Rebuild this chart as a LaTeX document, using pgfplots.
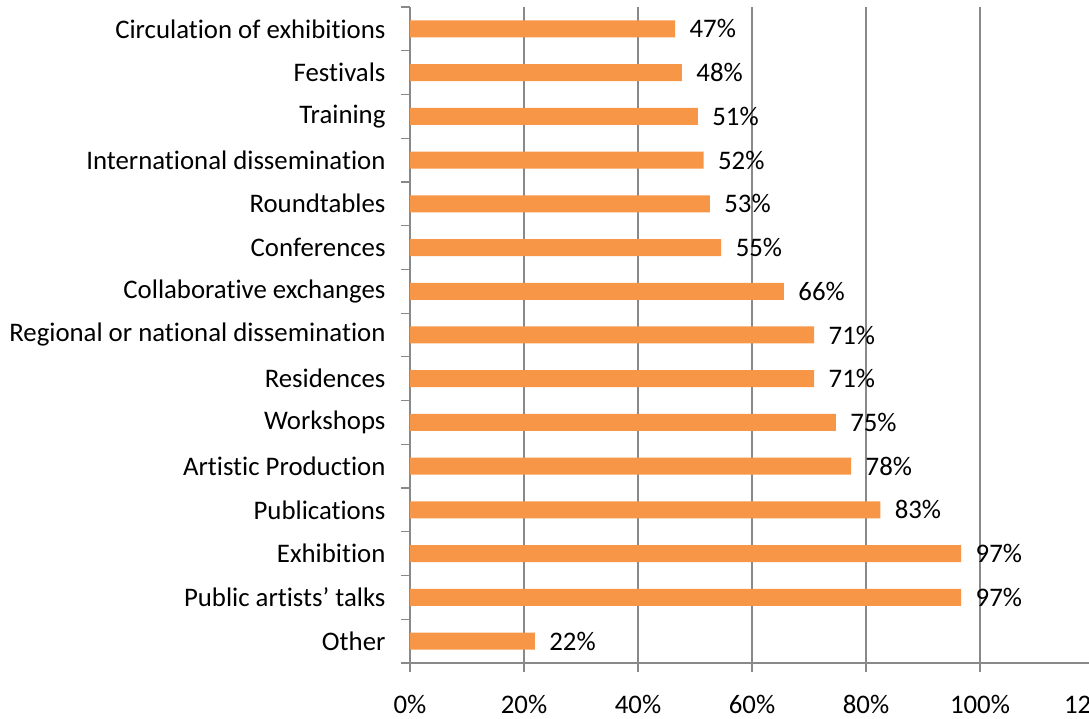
\documentclass[border=0pt]{standalone}
\usepackage{pgfplots}
\pgfplotsset{compat=1.18}
\usepackage{fontspec}
\setmainfont{Carlito}[Ligatures={TeX,NoCommon}]
\definecolor{barc}{HTML}{F79646}
\definecolor{axc}{HTML}{898989}
\newcommand{\fs}{\fontsize{26.8}{30}\selectfont}
\begin{document}
\begin{tikzpicture}
\useasboundingbox (-410pt,-56pt) rectangle (679pt,663pt);
\begin{axis}[
  at={(0pt,0pt)}, anchor=south west,
  scale only axis, width=684pt, height=656pt,
  xmin=0, xmax=120, ymin=-0.5, ymax=14.5,
  xbar, bar width=17pt,
  axis lines*=left,
  axis line style={axc, line width=1.2pt},
  xtick={0,20,...,120},
  xticklabels={0\%,20\%,40\%,60\%,80\%,100\%,120\%},
  xmajorgrids,
  grid style={axc, line width=1.2pt},
  tick style={axc, line width=1.2pt},
  tick align=outside,
  major tick length=9pt,
  ytick={-0.5,0.5,...,14.5},
  yticklabels={},
  extra y ticks={0,1,...,14},
  extra y tick labels={Other,Public artists’ talks,Exhibition,Publications,Artistic Production,Workshops,Residences,Regional or national dissemination,Collaborative exchanges,Conferences,Roundtables,International dissemination,Training,Festivals,Circulation of exhibitions},
  extra y tick style={major tick length=0pt, tick style={draw=none}, yticklabel style={xshift=-21pt}},
  tick label style={font=\fs, black},
  xticklabel style={yshift=-20pt},
  point meta=explicit symbolic,
  nodes near coords,
  nodes near coords style={font=\fs, black, anchor=west, xshift=11pt},
]
\addplot[fill=barc, draw=none] coordinates {
  (21.9,0) [22\%]
  (96.7,1) [97\%]
  (96.7,2) [97\%]
  (82.5,3) [83\%]
  (77.4,4) [78\%]
  (74.7,5) [75\%]
  (70.9,6) [71\%]
  (70.9,7) [71\%]
  (65.6,8) [66\%]
  (54.6,9) [55\%]
  (52.6,10) [53\%]
  (51.5,11) [52\%]
  (50.5,12) [51\%]
  (47.7,13) [48\%]
  (46.5,14) [47\%]
};
\end{axis}
\end{tikzpicture}
\end{document}
